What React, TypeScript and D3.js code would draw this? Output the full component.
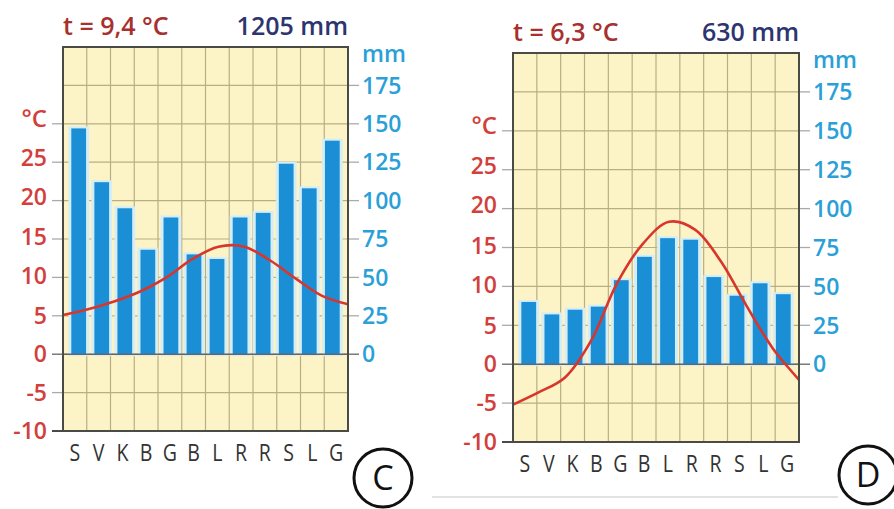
import React, { useEffect, useRef } from "react"
import * as d3 from "d3"

// month initials, same for both diagrams
const months = ["S", "V", "K", "B", "G", "B", "L", "R", "R", "S", "L", "G"]

// diagram C
const precipC = [147, 112, 95, 68, 89, 65, 62, 89, 92, 124, 108, 139]
const tempC = [5.1, 5.9, 6.9, 8.2, 10.0, 12.4, 14.0, 14.0, 12.2, 9.8, 7.6, 6.5]
const titleTempC = "t = 9,4 °C"
const titlePrecipC = "1205 mm"

// diagram D
const precipD = [40, 32, 35, 37, 54, 69, 81, 80, 56, 44, 52, 45]
const tempD = [-5.2, -3.6, -1.7, 3.0, 10.4, 15.5, 18.3, 17.3, 13.2, 7.4, 2.0, -2.0]
const titleTempD = "t = 6,3 °C"
const titlePrecipD = "630 mm"

const tempTicks = [-10, -5, 0, 5, 10, 15, 20, 25]
const precipTicks = [0, 25, 50, 75, 100, 125, 150, 175]
const gridTemps = [-5, 0, 5, 10, 15, 20, 25, 30, 35]

const FONT = "'Open Sans', 'DejaVu Sans', sans-serif"

function drawPanel(svg, opt) {
  const { left, right, top, bottom, precip, temp, tTitle, pTitle, letter, cx, cy } = opt
  const g = svg.append("g")

  const yT = d3.scaleLinear().domain([-10, 40]).range([bottom, top])
  const yP = d3.scaleLinear().domain([-50, 200]).range([bottom, top])
  const x = d3.scaleBand().domain(d3.range(12)).range([left, right]).padding(0.36)
  const xCol = d3.scaleBand().domain(d3.range(12)).range([left, right]).padding(0)
  const xT = d3.scalePoint().domain(d3.range(12)).range([left, right])

  // background
  g.append("rect")
    .attr("x", left).attr("y", top)
    .attr("width", right - left).attr("height", bottom - top)
    .attr("fill", "#fcf4c6")

  // vertical grid
  g.selectAll(".vg")
    .data(d3.range(1, 12))
    .enter().append("line")
    .attr("x1", d => xCol(d)).attr("x2", d => xCol(d))
    .attr("y1", top).attr("y2", bottom)
    .attr("stroke", "#b8ae84").attr("stroke-width", 1.2)

  // horizontal grid
  g.selectAll(".hg")
    .data(gridTemps)
    .enter().append("line")
    .attr("x1", left).attr("x2", right)
    .attr("y1", d => yT(d)).attr("y2", d => yT(d))
    .attr("stroke", "#b8ae84").attr("stroke-width", 1.2)

  // left ticks (temperature) incl. the °C level
  g.selectAll(".lt")
    .data([...tempTicks, 30])
    .enter().append("line")
    .attr("x1", left - 11).attr("x2", left)
    .attr("y1", d => yT(d)).attr("y2", d => yT(d))
    .attr("stroke", d => (d === 0 ? "#666" : "#aaa")).attr("stroke-width", 1.3)

  // right ticks (precipitation)
  g.selectAll(".rt")
    .data(precipTicks)
    .enter().append("line")
    .attr("x1", right).attr("x2", right + 11)
    .attr("y1", d => yP(d)).attr("y2", d => yP(d))
    .attr("stroke", d => (d === 0 ? "#666" : "#aaa")).attr("stroke-width", 1.3)

  // bars with pale halo
  g.selectAll(".halo")
    .data(precip)
    .enter().append("rect")
    .attr("x", (d, i) => x(i) - 3)
    .attr("y", d => yP(d) - 2)
    .attr("width", x.bandwidth() + 6)
    .attr("height", d => yP(0) - yP(d) + 4)
    .attr("fill", "#d4edf6")

  g.selectAll(".bar")
    .data(precip)
    .enter().append("rect")
    .attr("x", (d, i) => x(i))
    .attr("y", d => yP(d))
    .attr("width", x.bandwidth())
    .attr("height", d => yP(0) - yP(d))
    .attr("fill", "#1b8fd6")

  // zero line
  g.append("line")
    .attr("x1", left).attr("x2", right)
    .attr("y1", yT(0)).attr("y2", yT(0))
    .attr("stroke", "#666").attr("stroke-width", 1.6)

  // temperature curve
  const line = d3.line()
    .x((d, i) => xT(i))
    .y(d => yT(d))
    .curve(d3.curveCatmullRom.alpha(0.5))
  g.append("path")
    .attr("d", line(temp))
    .attr("fill", "none")
    .attr("stroke", "#d8352c")
    .attr("stroke-width", 2.6)

  // frame
  g.append("rect")
    .attr("x", left).attr("y", top)
    .attr("width", right - left).attr("height", bottom - top)
    .attr("fill", "none").attr("stroke", "#4b4b45").attr("stroke-width", 2)
  g.append("line")
    .attr("x1", left - 11).attr("x2", left)
    .attr("y1", bottom).attr("y2", bottom)
    .attr("stroke", "#4b4b45").attr("stroke-width", 2)

  // left labels
  g.selectAll(".ll")
    .data(tempTicks)
    .enter().append("text")
    .attr("x", left - 16)
    .attr("y", d => yT(d) - (d > 15 ? 4 : d > 5 ? 2 : 0))
    .attr("dy", "0.36em")
    .attr("text-anchor", "end")
    .attr("font-family", FONT).attr("font-size", 23).attr("font-weight", 600)
    .attr("fill", "#d23f3c")
    .text(d => d)
  g.append("text")
    .attr("x", left - 16).attr("y", yT(30) - 5)
    .attr("dy", "0.36em")
    .attr("text-anchor", "end")
    .attr("font-family", FONT).attr("font-size", 24).attr("font-weight", 600)
    .attr("fill", "#d23f3c")
    .text("°C")

  // right labels
  g.selectAll(".rl")
    .data(precipTicks)
    .enter().append("text")
    .attr("x", right + 14)
    .attr("y", d => yP(d))
    .attr("dy", "0.36em")
    .attr("font-family", FONT).attr("font-size", 23).attr("font-weight", 600)
    .attr("fill", "#2a9fd8")
    .text(d => d)
  g.append("text")
    .attr("x", right + 14).attr("y", yP(200) + 7)
    .attr("dy", "0.36em")
    .attr("font-family", FONT).attr("font-size", 23).attr("font-weight", 600)
    .attr("fill", "#2a9fd8")
    .text("mm")

  // month labels, slightly condensed
  g.selectAll(".ml")
    .data(months)
    .enter().append("text")
    .attr("transform", (d, i) => `translate(${xCol(i) + xCol.bandwidth() / 2},${bottom + 30}) scale(0.85,1)`)
    .attr("text-anchor", "middle")
    .attr("font-family", FONT).attr("font-size", 23).attr("font-weight", 500)
    .attr("fill", "#333")
    .text(d => d)

  // titles
  g.append("text")
    .attr("x", left).attr("y", top - 12)
    .attr("font-family", FONT).attr("font-size", 25).attr("font-weight", 600)
    .attr("fill", "#a8302e")
    .text(tTitle)
  g.append("text")
    .attr("x", right).attr("y", top - 12)
    .attr("text-anchor", "end")
    .attr("font-family", FONT).attr("font-size", 25).attr("font-weight", 600)
    .attr("fill", "#2d3570")
    .text(pTitle)

  // circled letter
  g.append("circle")
    .attr("cx", cx).attr("cy", cy).attr("r", 29)
    .attr("fill", "#fff").attr("stroke", "#111").attr("stroke-width", 3)
  g.append("text")
    .attr("x", cx).attr("y", cy)
    .attr("dy", "0.36em")
    .attr("text-anchor", "middle")
    .attr("font-family", FONT).attr("font-size", 34).attr("font-weight", 500)
    .attr("fill", "#111")
    .text(letter)
}

export default function App() {
  const ref = useRef(null)

  useEffect(() => {
    const svg = d3.select(ref.current)
    svg.selectAll("*").remove()

    svg.append("rect").attr("width", 894).attr("height", 509).attr("fill", "#fff")
    // faint separator under the right diagram
    svg.append("line")
      .attr("x1", 432).attr("x2", 838).attr("y1", 497).attr("y2", 497)
      .attr("stroke", "#d9d9d9").attr("stroke-width", 1.5)

    drawPanel(svg, {
      left: 63, right: 348, top: 47, bottom: 431,
      precip: precipC, temp: tempC,
      tTitle: titleTempC, pTitle: titlePrecipC,
      letter: "C", cx: 383, cy: 478,
    })
    drawPanel(svg, {
      left: 513, right: 799, top: 53, bottom: 442,
      precip: precipD, temp: tempD,
      tTitle: titleTempD, pTitle: titlePrecipD,
      letter: "D", cx: 868, cy: 475,
    })
  }, [])

  return (
    <svg
      ref={ref}
      width={894}
      height={509}
      style={{ position: "absolute", left: 0, top: 0 }}
    />
  )
}
